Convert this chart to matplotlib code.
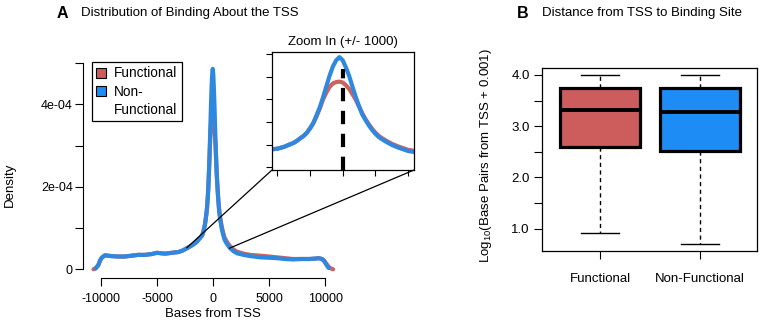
import numpy as np
import matplotlib
matplotlib.use("Agg")
import matplotlib.pyplot as plt
from matplotlib.patches import Patch, ConnectionPatch

plt.rcParams['font.family'] = ['Liberation Sans', 'DejaVu Sans']
plt.rcParams['mathtext.default'] = 'regular'

# ---- panel A: density of binding sites about the TSS (values in 1e-4) ----
bases = [-10700, -10500, -10270, -10100, -9960, -9670, -9400, -9070, -8500, -7900,
         -7300, -6700, -6100, -5500, -5050, -4700, -4300, -3700, -3100, -2700,
         -2230, -1800, -1500, -1250,
         -1000, -950, -900, -850, -800, -750, -700, -650, -600, -550,
         -500, -450, -400, -350, -300, -250, -200, -150, -100, -50,
         0, 50, 100, 150, 200, 250, 300, 350, 400, 450,
         500, 550, 600, 650, 700, 750, 800, 850, 900, 950, 1000,
         1250, 1500, 1800, 2100, 2700, 3300, 4200, 5000, 5700, 6400,
         7100, 7800, 8600, 9100, 9400, 9700, 9900, 10100, 10300, 10500, 10700]

dens_func = [0.0, 0.03, 0.10, 0.22, 0.28, 0.34, 0.33, 0.32, 0.31, 0.31,
             0.33, 0.35, 0.35, 0.37, 0.40, 0.39, 0.38, 0.40, 0.42, 0.46,
             0.53, 0.60, 0.66, 0.74,
             0.82, 0.86, 0.90, 0.96, 1.02, 1.08, 1.17, 1.28, 1.38, 1.52,
             1.72, 1.95, 2.25, 2.60, 3.00, 3.30, 3.55, 3.70, 3.76, 3.78,
             3.74, 3.62, 3.45, 3.22, 2.98, 2.68, 2.38, 2.12, 1.90, 1.70,
             1.53, 1.39, 1.29, 1.20, 1.12, 1.04, 0.98, 0.92, 0.87, 0.82, 0.77,
             0.65, 0.56, 0.48, 0.43, 0.38, 0.35, 0.33, 0.31, 0.29, 0.27,
             0.25, 0.25, 0.25, 0.26, 0.27, 0.25, 0.21, 0.13, 0.06, 0.02, 0.0]

dens_nonfunc = [np.nan, 0.02, 0.10, 0.22, 0.28, 0.34, 0.33, 0.32, 0.31, 0.31,
                0.33, 0.35, 0.35, 0.37, 0.40, 0.39, 0.38, 0.40, 0.42, 0.46,
                0.53, 0.60, 0.66, 0.74,
                0.82, 0.86, 0.90, 0.96, 1.02, 1.08, 1.17, 1.28, 1.38, 1.52,
                1.72, 1.95, 2.30, 2.65, 3.10, 3.58, 4.05, 4.45, 4.72, 4.86,
                4.72, 4.40, 4.02, 3.55, 3.10, 2.70, 2.33, 2.08, 1.85, 1.65,
                1.48, 1.34, 1.24, 1.15, 1.07, 0.99, 0.93, 0.87, 0.82, 0.77, 0.72,
                0.60, 0.51, 0.44, 0.39, 0.35, 0.32, 0.29, 0.28, 0.27, 0.25,
                0.24, 0.25, 0.25, 0.26, 0.27, 0.25, 0.20, 0.11, 0.03, np.nan, np.nan]

# ---- panel B: log10 distance box plot stats ----
groups = ['Functional', 'Non-Functional']
box_stats = [
    dict(whislo=0.91, q1=2.60, med=3.32, q3=3.75, whishi=4.0),
    dict(whislo=0.71, q1=2.52, med=3.27, q3=3.75, whishi=4.0),
]

RED_LINE = '#d0625e'
BLUE_LINE = '#2f88e0'
RED_FILL = '#cd5c5c'
BLUE_FILL = '#1e8cf5'

W, H = 763, 325
fig = plt.figure(figsize=(W / 100, H / 100), dpi=100)


def px_axes(left, top, right, bottom):
    return fig.add_axes([left / W, 1 - bottom / H, (right - left) / W, (bottom - top) / H])


x = np.array(bases)
yf = np.array(dens_func) * 1e-4
yn = np.array(dens_nonfunc) * 1e-4

# main density axes
ax = px_axes(83.3, 60.2, 343.3, 278.3)
ax.plot(x, yf, color=RED_LINE, lw=3, solid_capstyle='round')
ax.plot(x, yn, color=BLUE_LINE, lw=3, solid_capstyle='round')
ax.set_xlim(-11607, 11607)
ax.set_ylim(-0.218e-4, 5.07e-4)
for s in ['top', 'right']:
    ax.spines[s].set_visible(False)
ax.spines['left'].set_bounds(0, 5e-4)
ax.spines['bottom'].set_bounds(-10000, 10000)
ax.set_yticks([0, 1e-4, 2e-4, 3e-4, 4e-4, 5e-4])
ax.set_yticklabels(['0', '', '2e-04', '', '4e-04', ''])
ax.set_xticks([-10000, -5000, 0, 5000, 10000])
ax.set_xticklabels(['-10000', '-5000', '0', '5000', '10000'])
ax.tick_params(labelsize=9, length=5.5, width=0.8, pad=2)
ax.tick_params(axis='x', pad=5)
ax.set_xlabel('Bases from TSS', fontsize=9.5, labelpad=2)
ax.set_ylabel('Density', fontsize=9.5)
ax.yaxis.set_label_coords(-(83.3 - 15.5) / 260, 0.43)

handles = [Patch(facecolor=RED_FILL, edgecolor='black', lw=0.8),
           Patch(facecolor=BLUE_FILL, edgecolor='black', lw=0.8),
           Patch(facecolor='none', edgecolor='none')]
leg = ax.legend(handles, ['Functional', 'Non-', 'Functional'], loc='upper left',
                bbox_to_anchor=(91.5 / W, 1 - 61.7 / H), bbox_transform=fig.transFigure,
                borderaxespad=0, fancybox=False, edgecolor='black', fontsize=9.8,
                handlelength=0.75, handleheight=0.75, handletextpad=0.55,
                labelspacing=0.3, borderpad=0.35, framealpha=1)
leg.get_frame().set_linewidth(0.9)

fig.text(57 / W, 1 - 13 / H, 'A', fontsize=11.5, fontweight='bold', va='center')
fig.text(81 / W, 1 - 13 / H, 'Distribution of Binding About the TSS', fontsize=9.5, va='center')

# inset zoom
ins = px_axes(272, 51.7, 414, 170)
ins.plot(x, yf, color=RED_LINE, lw=3)
ins.plot(x, yn, color=BLUE_LINE, lw=3)
ins.plot([0, 0], [-0.12e-4, 4.34e-4], color='black', lw=3, ls=(0, (3.2, 2.3)))
ins.set_xlim(-1083, 1092)
ins.set_ylim(-0.12e-4, 5.1e-4)
ins.set_xticks([-1000, -500, 0, 500, 1000])
ins.set_yticks([0, 1e-4, 2e-4, 3e-4, 4e-4, 5e-4])
ins.tick_params(labelbottom=False, labelleft=False, length=4, width=0.8)
for s in ins.spines.values():
    s.set_linewidth(0.9)
ins.set_title('Zoom In (+/- 1000)', fontsize=9.5, pad=5)

zoom_from = [(-2375, 0.52e-4), (1430, 0.51e-4)]
for (zx, zy), corner in zip(zoom_from, [(0, 0), (1, 0)]):
    con = ConnectionPatch(xyA=(zx, zy), coordsA=ax.transData,
                          xyB=corner, coordsB=ins.transAxes, color='black', lw=0.9)
    fig.add_artist(con)

# panel B box plot
bx = px_axes(542.3, 68.3, 756.7, 250.7)
bp = bx.bxp(box_stats, positions=[1, 2], widths=0.8, showfliers=False, patch_artist=True,
            boxprops=dict(lw=2.3, edgecolor='black'),
            medianprops=dict(color='black', lw=2.8),
            whiskerprops=dict(color='black', lw=1.0, ls=(0, (3, 2.5))),
            capprops=dict(color='black', lw=1.0), capwidths=0.38)
for patch, c in zip(bp['boxes'], [RED_FILL, BLUE_FILL]):
    patch.set_facecolor(c)
bx.set_xlim(0.42, 2.564)
bx.set_ylim(0.57, 4.13)
bx.set_yticks([1.0, 1.5, 2.0, 2.5, 3.0, 3.5, 4.0])
bx.set_yticklabels(['1.0', '', '2.0', '', '3.0', '', '4.0'])
bx.set_xticks([1, 2])
bx.set_xticklabels(groups)
bx.tick_params(labelsize=9.5, length=6, width=0.8, pad=3)
bx.tick_params(axis='x', pad=10)
for s in bx.spines.values():
    s.set_linewidth(0.9)
bx.set_ylabel('Log$_{10}$(Base Pairs from TSS + 0.001)', fontsize=9.5)
bx.yaxis.set_label_coords(-(542.3 - 494) / 214.4, 0.52)

fig.text(517 / W, 1 - 13 / H, 'B', fontsize=11.5, fontweight='bold', va='center')
fig.text(542 / W, 1 - 13 / H, 'Distance from TSS to Binding Site', fontsize=9.5, va='center')

fig.savefig('out.png', dpi=100)
